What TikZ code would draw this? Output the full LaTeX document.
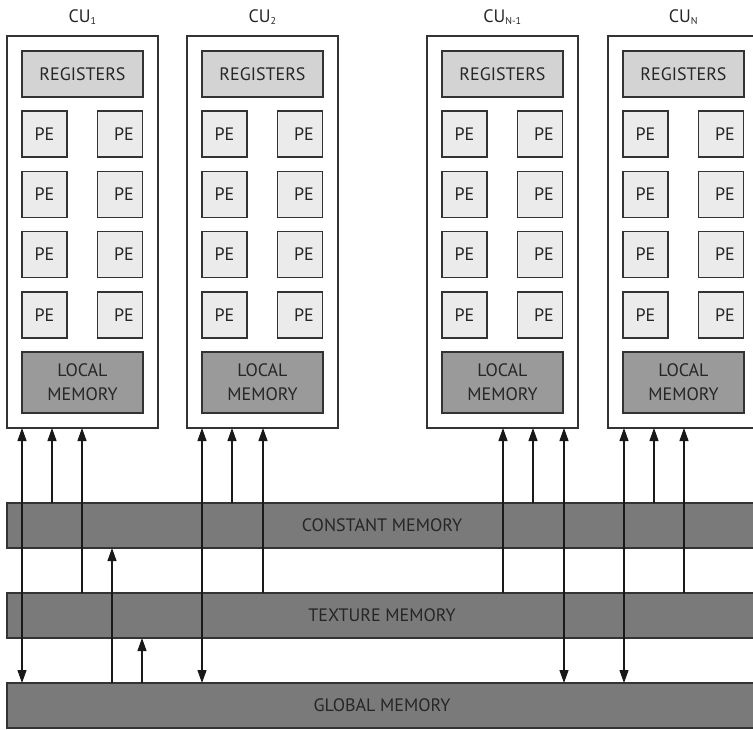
\documentclass[tikz,border=0pt]{standalone}
\usepackage{fontspec}
\setmainfont{PT Sans}
\usetikzlibrary{arrows.meta,calc}
\definecolor{edge}{HTML}{333333}
\definecolor{regfill}{HTML}{D3D3D3}
\definecolor{pefill}{HTML}{EBEBEB}
\definecolor{lmfill}{HTML}{9A9A9A}
\definecolor{barfill}{HTML}{7A7A7A}
\definecolor{txt}{HTML}{262626}
\begin{document}
\begin{tikzpicture}[x=1pt,y=-1pt,
  every node/.style={inner sep=0pt, outer sep=0pt, text=txt},
  lbl/.style={font=\fontsize{18}{20}\selectfont, anchor=base},
  cubox/.style={draw=edge, line width=1.4pt, fill=white, minimum width=151pt, minimum height=392pt, anchor=north west},
  regbox/.style={draw=edge, line width=1.4pt, fill=regfill, minimum width=121pt, minimum height=46pt, anchor=north west, font=\fontsize{18}{20}\selectfont},
  pebox/.style={draw=edge, line width=1.4pt, fill=pefill, minimum width=45pt, minimum height=46pt, anchor=north west, font=\fontsize{18}{20}\selectfont},
  lmbox/.style={draw=edge, line width=1.4pt, fill=lmfill, minimum width=121pt, minimum height=61pt, anchor=north west, align=center, font=\fontsize{18}{24}\selectfont},
  membar/.style={draw=edge, line width=1.4pt, fill=barfill, minimum width=750pt, minimum height=45pt, anchor=north west, font=\fontsize{18}{20}\selectfont},
  arr/.style={-{Triangle[width=9pt,length=13pt]}, line width=1.2pt, draw=black!90},
  darr/.style={{Triangle[width=9pt,length=13pt]}-{Triangle[width=9pt,length=13pt]}, line width=1.2pt, draw=black!90}
]
\useasboundingbox (0,0) rectangle (753,729);

% compute units
\foreach \n/\x/\lab in {1/7/1, 2/187/2, 3/427/{N-1}, 4/608/N}{
  \node[cubox] (cu\n) at (\x,36) {};
  \node[lbl] (lab\n) at (\x+75.5,22) {CU\textsubscript{\fontsize{10}{10}\selectfont\lab}};
  \node[regbox] (reg\n) at (\x+15,51) {REGISTERS};
  \foreach \r in {1,2,3,4}{
    \node[pebox] (pe\n-\r-1) at (\x+15,{111+60.3*(\r-1)}) {PE};
    \node[pebox] (pe\n-\r-2) at (\x+90.5,{111+60.3*(\r-1)}) {\hspace*{8pt}PE};
  }
  \node[lmbox] (lm\n) at (\x+15,352) {LOCAL\\MEMORY};
}

% memory bars
\node[membar] (const) at (7,503) {CONSTANT MEMORY};
\node[membar] (tex) at (7,593) {TEXTURE MEMORY};
\node[membar] (glob) at (7,683) {GLOBAL MEMORY};

% arrow positions
\coordinate (a1) at ($(cu1.south west)+(15,0)$);
\coordinate (b1) at ($(cu1.south west)+(45,0)$);
\coordinate (c1) at ($(cu1.south west)+(75,0)$);
\coordinate (a2) at ($(cu2.south west)+(15,0)$);
\coordinate (b2) at ($(cu2.south west)+(45,0)$);
\coordinate (c2) at ($(cu2.south west)+(76,0)$);
\coordinate (c3) at ($(cu3.south west)+(76,0)$);
\coordinate (b3) at ($(cu3.south west)+(106,0)$);
\coordinate (a3) at ($(cu3.south west)+(137,0)$);
\coordinate (a4) at ($(cu4.south west)+(16,0)$);
\coordinate (b4) at ($(cu4.south west)+(46,0)$);
\coordinate (c4) at ($(cu4.south west)+(76,0)$);
\coordinate (m1) at (112,0);
\coordinate (m2) at (142,0);

\foreach \n in {1,2,3,4}{
  \draw[darr] (glob.north -| a\n) -- (cu\n.south -| a\n);
  \draw[arr] (const.north -| b\n) -- (cu\n.south -| b\n);
  \draw[arr] (tex.north -| c\n) -- (cu\n.south -| c\n);
}
\draw[arr] (glob.north -| m1) -- (const.south -| m1);
\draw[arr] (glob.north -| m2) -- (tex.south -| m2);
\end{tikzpicture}
\end{document}
